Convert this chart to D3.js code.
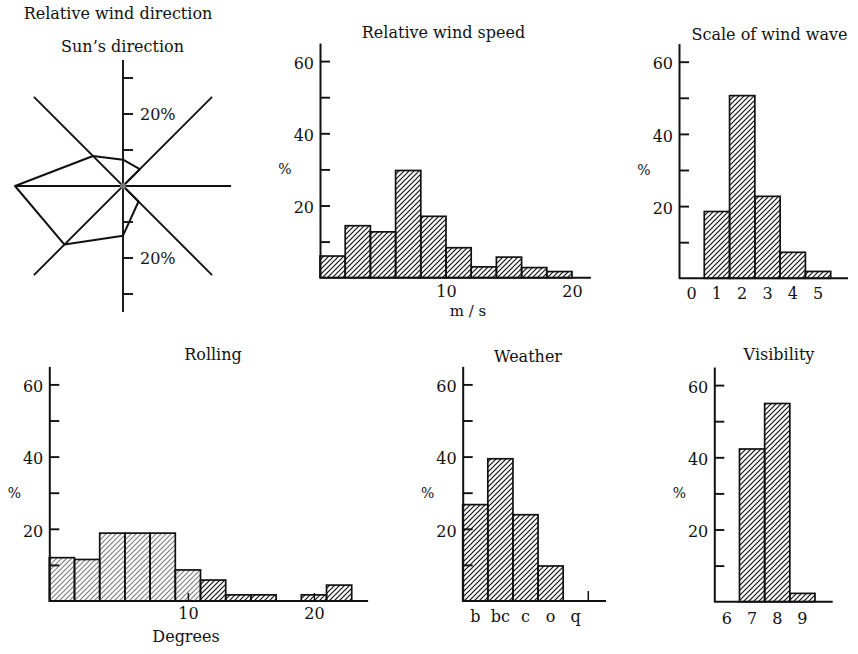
<!DOCTYPE html>
<html><head><meta charset="utf-8">
<script src="https://cdn.jsdelivr.net/npm/d3@7"></script>
<style>
body{margin:0;background:#fff}
svg{display:block}
text{font-family:"DejaVu Serif",serif;fill:#111}
</style>
</head><body>
<svg id="c" width="858" height="654"></svg>
<script>
// ---------- DATA ----------
const windDirLabels = ["N","NE","E","SE","S","SW","W","NW"];
const windDirValues = [7.3, 6.6, 0, 6.1, 13.8, 23, 30, 11.8];
const windDirSpokes = [35, 35, 30, 35];           // spoke extents (%) N-S, NE-SW, E-W, SE-NW
const windDirTicks = [10, 20, 30];
const windDirTickLabels = [20];

const windSpeedBinStart = [0, 2, 4, 6, 8, 10, 12, 14, 16, 18];
const windSpeedBinWidth = 2;
const windSpeedValues = [6, 14.4, 12.7, 29.7, 17, 8.3, 3, 5.7, 2.8, 1.7];
const windSpeedTicks = [10, 20];

const waveCategories = ["0","1","2","3","4","5"];
const waveValues = [0, 18.5, 50.6, 22.7, 7.2, 1.9];

const rollingBinStart = [-1, 1, 3, 5, 7, 9, 11, 13, 15, 17, 19, 21];
const rollingBinWidth = 2;
const rollingValues = [12, 11.5, 18.8, 18.8, 18.8, 8.6, 5.8, 1.7, 1.7, 0, 1.7, 4.4];
const rollingTicks = [10, 20];

const weatherCategories = ["b","bc","c","o","q"];
const weatherValues = [26.7, 39.4, 23.9, 9.7, 0];

const visibilityCategories = ["6","7","8","9"];
const visibilityValues = [0, 42.3, 54.9, 2.3];

const yTicks = [10, 20, 30, 40, 50, 60];
const yTickLabels = [20, 40, 60];

// ---------- DRAW ----------
const svg = d3.select("#c");
const INK = "#111";
const defs = svg.append("defs");
function hatch(id, color){
  const p = defs.append("pattern").attr("id", id)
    .attr("patternUnits","userSpaceOnUse").attr("width",5).attr("height",5);
  p.append("path").attr("d","M-1,1 l2,-2 M0,5 l5,-5 M4,6 l2,-2")
    .attr("stroke", color).attr("stroke-width",1.2).attr("fill","none");
}
hatch("h", INK);
hatch("hg", "#808080");

function title(txt, x, y){
  svg.append("text").attr("x",x).attr("y",y).attr("text-anchor","middle")
    .attr("font-size",16).text(txt);
}

// ---- Polar chart ----
const cx = 123, cy = 186;
const rS = d3.scaleLinear().domain([0,35]).range([0,126]);
const aS = d3.scaleLinear().domain([0,8]).range([0, 2*Math.PI]);
const gP = svg.append("g").attr("transform",`translate(${cx},${cy})`);
const radial = d3.lineRadial().angle(d=>aS(d[0])).radius(d=>rS(d[1]));
windDirSpokes.forEach((len,i)=>{
  gP.append("path").attr("d", radial([[i,len],[i+4,len]]))
    .attr("stroke",INK).attr("stroke-width",1.9).attr("fill","none");
});
gP.append("path")
  .attr("d", d3.lineRadial().angle((d,i)=>aS(i)).radius(d=>rS(d)).curve(d3.curveLinearClosed)(windDirValues))
  .attr("stroke",INK).attr("stroke-width",2).attr("fill","none").attr("stroke-linejoin","round");
[...windDirTicks, ...windDirTicks.map(v=>-v)].forEach(v=>{
  gP.append("line").attr("x1",0).attr("x2",10).attr("y1",-rS(v)).attr("y2",-rS(v))
    .attr("stroke",INK).attr("stroke-width",1.9);
});
[...windDirTickLabels, ...windDirTickLabels.map(v=>-v)].forEach(v=>{
  gP.append("text").attr("x",17).attr("y",(v>0?-rS(v):rS(-v))).attr("dy","0.38em")
    .attr("font-size",16).text(Math.abs(v)+"%");
});
gP.append("circle").attr("r",3).attr("fill","#777");
title("Relative wind direction", 118, 19);
title("Sun\u2019s direction", 122.5, 51.5);

// ---- Histogram helper ----
function hist(cfg){
  const g = svg.append("g");
  const y = d3.scaleLinear().domain([0,65]).range([cfg.y0, cfg.y0 - 65*3.61]);
  const bars = cfg.bars.filter(d=>d.v>0);
  g.selectAll("rect").data(bars).join("rect")
    .attr("x",d=>d.x0).attr("width",d=>d.x1-d.x0)
    .attr("y",d=>y(d.v)).attr("height",d=>cfg.y0-y(d.v))
    .attr("fill",d=>`url(#${d.pat||"h"})`)
    .attr("stroke",INK).attr("stroke-width",1.7);
  // baseline
  g.append("line").attr("x1",cfg.x0).attr("x2",cfg.xEnd).attr("y1",cfg.y0).attr("y2",cfg.y0)
    .attr("stroke",INK).attr("stroke-width",2);
  // y axis
  const ya = d3.axisLeft(y).tickValues(yTicks).tickSizeInner(-10).tickSizeOuter(0)
    .tickPadding(6).tickFormat(d=> yTickLabels.includes(d) ? d : "");
  const ga = g.append("g").attr("transform",`translate(${cfg.x0},0)`).call(ya);
  ga.select(".domain").attr("stroke",INK).attr("stroke-width",2);
  ga.selectAll(".tick line").attr("stroke",INK).attr("stroke-width",1.9);
  ga.selectAll(".tick text").attr("font-family","DejaVu Serif").attr("font-size",16)
    .attr("fill",INK).attr("dy","0.45em");
  // x axis labels
  const xa = d3.axisBottom(cfg.x).tickValues(cfg.xTicks)
    .tickSizeInner(cfg.xTickSize? -cfg.xTickSize : 0).tickSizeOuter(0).tickPadding(cfg.xPad);
  const gx = g.append("g").attr("transform",`translate(0,${cfg.y0})`).call(xa);
  gx.select(".domain").remove();
  gx.selectAll(".tick line").attr("stroke",INK).attr("stroke-width",1.5);
  gx.selectAll(".tick text").attr("font-family","DejaVu Serif").attr("font-size",16)
    .attr("fill",INK).attr("dy","0.71em")
    .attr("y", cfg.xPad);
  // % label
  g.append("text").attr("x",cfg.x0-35).attr("y",y(30)).attr("dy","0.35em")
    .attr("text-anchor","middle").attr("font-size",14).text("%");
  return {g, y};
}

// ---- Relative wind speed ----
const xWS = d3.scaleLinear().domain([0,21.5]).range([320,590.9]);
hist({
  x0: 320, y0: 277.7, xEnd: xWS(21.5), x: xWS, xTicks: windSpeedTicks, xPad: 8,
  bars: windSpeedBinStart.map((s,i)=>({x0:xWS(s), x1:xWS(s+windSpeedBinWidth), v:windSpeedValues[i]}))
});
title("Relative wind speed", 443.5, 37.5);
svg.append("text").attr("x",468).attr("y",316).attr("text-anchor","middle").attr("font-size",15).text("m / s");

// ---- Scale of wind wave ----
const xWW = d3.scaleBand().domain(waveCategories).range([679,830.7]).paddingInner(0);
hist({
  x0: 679, y0: 278.3, xEnd: 848, x: xWW, xTicks: waveCategories, xPad: 9,
  bars: waveCategories.map((c,i)=>({x0:xWW(c), x1:xWW(c)+xWW.bandwidth(), v:waveValues[i]}))
});
title("Scale of wind wave", 769.5, 40);

// ---- Rolling ----
const xR = d3.scaleLinear().domain([-1,24.3]).range([49.3,368.1]);
hist({
  x0: 49.3, y0: 601, xEnd: xR(24.3), x: xR, xTicks: rollingTicks, xPad: 7, xTickSize: 8,
  bars: rollingBinStart.map((s,i)=>({x0:xR(s), x1:xR(s+rollingBinWidth), v:rollingValues[i], pat: i<=5?"hg":"h"}))
});
title("Rolling", 213, 359.5);
svg.append("text").attr("x",186).attr("y",642).attr("text-anchor","middle").attr("font-size",16).text("Degrees");

// ---- Weather ----
const xW = d3.scaleBand().domain(weatherCategories).range([462.7,588.3]).paddingInner(0);
const wth = hist({
  x0: 462.7, y0: 601, xEnd: 606, x: xW, xTicks: weatherCategories, xPad: 10,
  bars: weatherCategories.map((c,i)=>({x0:xW(c), x1:xW(c)+xW.bandwidth(), v:weatherValues[i]}))
});
const qEnd = xW("q") + xW.bandwidth();
wth.g.append("line").attr("x1",qEnd).attr("x2",qEnd).attr("y1",601).attr("y2",591)
  .attr("stroke",INK).attr("stroke-width",1.5);
title("Weather", 528, 361.5);

// ---- Visibility ----
const xV = d3.scaleBand().domain(visibilityCategories).range([714.3,815]).paddingInner(0);
hist({
  x0: 714.3, y0: 601.7, xEnd: 832.7, x: xV, xTicks: visibilityCategories, xPad: 11,
  bars: visibilityCategories.map((c,i)=>({x0:xV(c), x1:xV(c)+xV.bandwidth(), v:visibilityValues[i]}))
});
title("Visibility", 779, 360);
</script>
</body></html>
